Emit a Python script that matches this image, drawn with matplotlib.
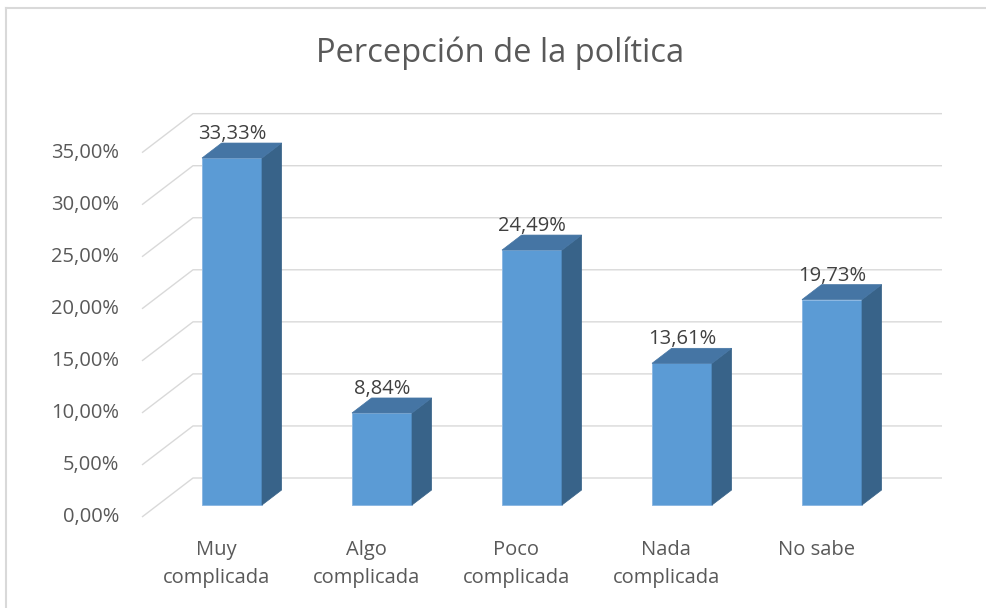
import matplotlib
matplotlib.use('Agg')
from matplotlib import pyplot as plt
from matplotlib.patches import Polygon
from matplotlib.lines import Line2D

title = 'Percepción de la política'
categories = ['Muy\ncomplicada', 'Algo\ncomplicada', 'Poco\ncomplicada',
              'Nada\ncomplicada', 'No sabe']
values = [33.33, 8.84, 24.49, 13.61, 19.73]
ticks = [0, 5, 10, 15, 20, 25, 30, 35]

plt.rcParams['font.family'] = ['Open Sans', 'DejaVu Sans']

TEXT = '#595959'
GRID = '#D9D9D9'
FRONT = '#5B9BD5'
TOP = '#4575A4'
SIDE = '#386389'


def pct(v):
    return ('%.2f%%' % v).replace('.', ',')


# pixel layout of the oblique "3D" chart
W, H = 987, 608
PX_X = 150.0     # pixels per category
PX_Y = 10.41     # pixels per percent
X0, Y0 = 232, 505  # pixel of first bar (front face centre, zero level)
SLOPE = 51.0 / 39.0  # depth direction, x pixels per y pixel


def depth(py):
    """Offset in data units for moving py pixels into the depth."""
    return py * SLOPE / PX_X, py / PX_Y


fig = plt.figure(figsize=(W / 100, H / 100), dpi=100)
ax = fig.add_axes([0, 0, 1, 1])
ax.set_xlim(-X0 / PX_X, (W - X0) / PX_X)
ax.set_ylim(-(H - Y0) / PX_Y, Y0 / PX_Y)
ax.axis('off')

## Gridlines (front floor edge -> back wall)
wall_left = (142 - X0) / PX_X
wall_right = (942 - X0) / PX_X
fdx, fdy = depth(-12)
bdx, bdy = depth(27)
for t in ticks:
    xs = [wall_left, wall_left + bdx - fdx, wall_right]
    ys = [t + fdy, t + bdy, t + bdy]
    ax.plot(xs, ys, color=GRID, lw=1.0, zorder=1, solid_capstyle='butt')
    ax.text((119 - X0) / PX_X, t + fdy, pct(t), ha='right', va='center',
            fontsize=14.5, color=TEXT)

## Bars
half = 30 / PX_X
ddx, ddy = depth(15)
for i, v in enumerate(values):
    l, r = i - half, i + half
    ax.add_patch(Polygon([(l, 0), (r, 0), (r, v), (l, v)], closed=True,
                         facecolor=FRONT, edgecolor='#8DB8E2', lw=0.7, zorder=3))
    ax.add_patch(Polygon([(r, 0), (r + ddx, ddy), (r + ddx, v + ddy), (r, v)],
                         closed=True, facecolor=SIDE, edgecolor=SIDE, lw=0.5,
                         zorder=3))
    ax.add_patch(Polygon([(l, v), (r, v), (r + ddx, v + ddy), (l + ddx, v + ddy)],
                         closed=True, facecolor=TOP, edgecolor=TOP, lw=0.5,
                         zorder=3))
    ax.text(i, v + 24 / PX_Y, pct(v), ha='center', va='center',
            fontsize=14.5, color='#404040', zorder=4)
    ax.text(i + fdx, -35 / PX_Y, categories[i], ha='center', va='top',
            fontsize=14.5, color=TEXT, linespacing=1.55)

## Title
fig.text(500 / W, 1 - 53 / H, title, ha='center', va='center',
         fontsize=23.5, color=TEXT)

## Chart border (only left and top edges visible)
bx, by = 6 / W, 1 - 8 / H
fig.add_artist(Line2D([bx, bx], [0, by], transform=fig.transFigure,
                      color=GRID, lw=1.5))
fig.add_artist(Line2D([bx, 1], [by, by], transform=fig.transFigure,
                      color=GRID, lw=1.5))

fig.savefig('out.png', dpi=100)
